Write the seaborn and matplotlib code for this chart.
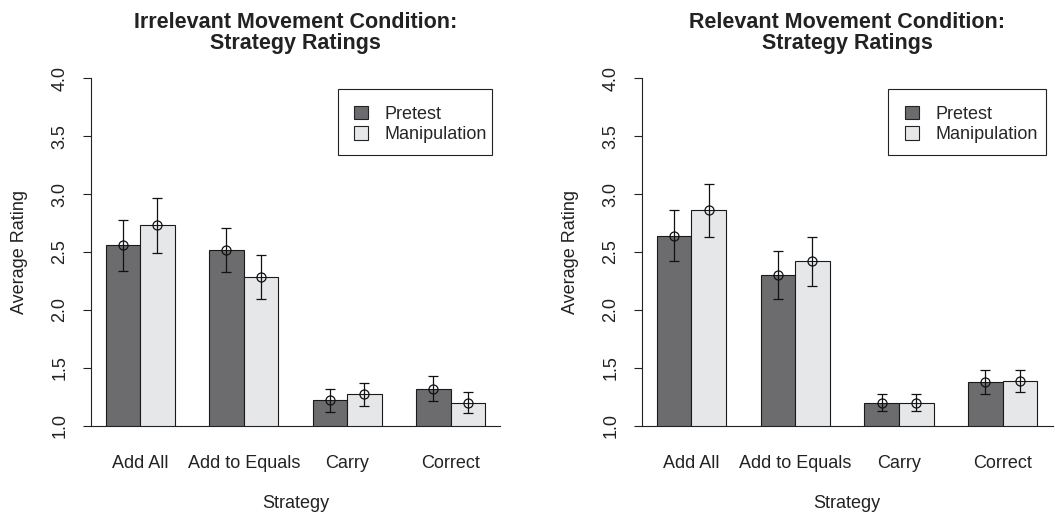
import numpy as np
import pandas as pd
import matplotlib
matplotlib.use("Agg")
import matplotlib.pyplot as plt
import seaborn as sns
from matplotlib.patches import Patch, Rectangle

sns.set_theme(style="white")
plt.rcParams["font.family"] = ["Liberation Sans", "DejaVu Sans"]

STRATEGIES = ["Add All", "Add to Equals", "Carry", "Correct"]
PHASES = ["Pretest", "Manipulation"]
PHASE_COLORS = {"Pretest": "#6b6c70", "Manipulation": "#e6e7e8"}

# irrelevant movement condition
irr_pre = [2.56, 2.52, 1.22, 1.32]
irr_pre_lo = [2.34, 2.33, 1.12, 1.21]
irr_pre_hi = [2.78, 2.71, 1.32, 1.43]
irr_man = [2.73, 2.28, 1.27, 1.20]
irr_man_lo = [2.49, 2.09, 1.17, 1.11]
irr_man_hi = [2.97, 2.47, 1.37, 1.29]

# relevant movement condition
rel_pre = [2.64, 2.30, 1.20, 1.38]
rel_pre_lo = [2.42, 2.09, 1.13, 1.27]
rel_pre_hi = [2.86, 2.51, 1.27, 1.48]
rel_man = [2.86, 2.42, 1.20, 1.39]
rel_man_lo = [2.63, 2.21, 1.13, 1.29]
rel_man_hi = [3.09, 2.63, 1.27, 1.48]

Y_TICKS = [1.0, 1.5, 2.0, 2.5, 3.0, 3.5, 4.0]


def make_df(pre, man, pre_lo, man_lo, pre_hi, man_hi):
    return pd.DataFrame({
        "strategy": STRATEGIES * 2,
        "phase": ["Pretest"] * 4 + ["Manipulation"] * 4,
        "rating": pre + man,
        "lo": pre_lo + man_lo,
        "hi": pre_hi + man_hi,
    })


def draw_panel(ax, df, title, box_x=(0.604, 0.98), handle_x=0.643):
    sns.barplot(data=df, x="strategy", y="rating", hue="phase",
                order=STRATEGIES, hue_order=PHASES, palette=PHASE_COLORS,
                width=2 / 3, errorbar=None, edgecolor="#1a1a1a",
                linewidth=0.8, legend=False, ax=ax)

    # error bars + open circle at the mean, taken from bar centres
    for cont, phase in zip(ax.containers, PHASES):
        sub = df[df["phase"] == phase].set_index("strategy").loc[STRATEGIES]
        xs = [b.get_x() + b.get_width() / 2 for b in cont]
        ys = sub["rating"].values
        yerr = [ys - sub["lo"].values, sub["hi"].values - ys]
        ax.errorbar(xs, ys, yerr=yerr, fmt="o", mfc="none", mec="#111111",
                    ms=6.5, mew=0.9, ecolor="#111111", elinewidth=0.9,
                    capsize=3.5, capthick=0.9, zorder=5)

    ax.set_ylim(1, 4)
    ax.set_xlim(-0.48, 3.48)
    ax.set_yticks(Y_TICKS)
    ax.set_yticklabels([f"{t:.1f}" for t in Y_TICKS], rotation=90, va="center")
    ax.tick_params(axis="y", length=6, width=0.8, pad=10, labelsize=13,
                   colors="#222222", left=True)
    ax.tick_params(axis="x", length=0, pad=21, labelsize=13, colors="#222222")

    for s in ["top", "right"]:
        ax.spines[s].set_visible(False)
    ax.spines["left"].set_bounds(1, 4)
    ax.spines["left"].set_color("#222222")
    ax.spines["left"].set_linewidth(0.8)
    ax.spines["bottom"].set_color("#222222")
    ax.spines["bottom"].set_linewidth(0.8)

    ax.set_xlabel("Strategy", fontsize=13, color="#222222")
    ax.xaxis.set_label_coords(0.5, -0.2)
    ax.set_ylabel("Average Rating", fontsize=13, color="#222222")
    ax.yaxis.set_label_coords(-0.153, 0.5)
    ax.set_title(title, fontsize=15.5, fontweight="bold", color="#222222",
                 pad=21, linespacing=1.0)

    # legend box drawn separately (R style: wider left padding than right)
    ax.add_patch(Rectangle((box_x[0], 0.779), box_x[1] - box_x[0], 0.19,
                           transform=ax.transAxes, facecolor="white",
                           edgecolor="#222222", linewidth=0.8, zorder=6,
                           clip_on=False))
    handles = [Patch(facecolor=PHASE_COLORS[p], edgecolor="#222222",
                     linewidth=0.8, label=p) for p in PHASES]
    leg = ax.legend(handles=handles, loc="upper left",
                    bbox_to_anchor=(handle_x, 0.921), borderaxespad=0,
                    borderpad=0, frameon=False, fontsize=13,
                    handlelength=0.78, handleheight=0.78,
                    handletextpad=0.9, labelspacing=0.2)
    leg.set_zorder(7)


fig = plt.figure(figsize=(10.55, 5.13), dpi=100)
ax1 = fig.add_axes([0.0858, 0.1702, 0.3885, 0.6772])
ax2 = fig.add_axes([0.6081, 0.1702, 0.3896, 0.6772])

draw_panel(ax1, make_df(irr_pre, irr_man, irr_pre_lo, irr_man_lo, irr_pre_hi, irr_man_hi),
           "Irrelevant Movement Condition:\nStrategy Ratings")
draw_panel(ax2, make_df(rel_pre, rel_man, rel_pre_lo, rel_man_lo, rel_pre_hi, rel_man_hi),
           "Relevant Movement Condition:\nStrategy Ratings",
           box_x=(0.600, 0.984), handle_x=0.641)

fig.savefig("out.png", dpi=100, facecolor="white")
